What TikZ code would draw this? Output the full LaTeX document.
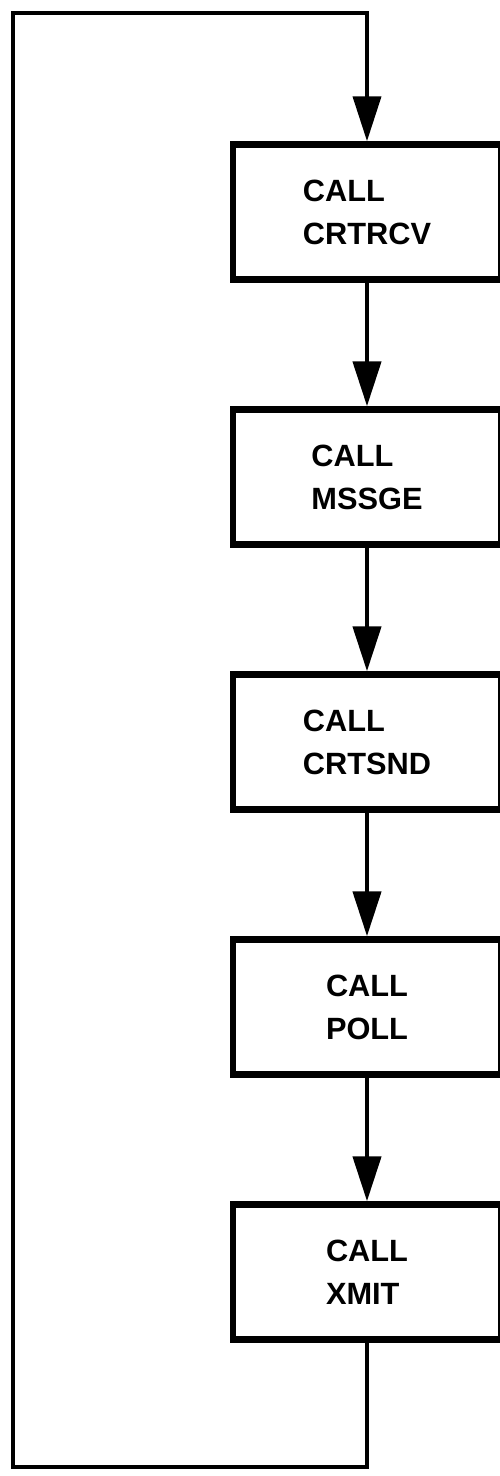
\documentclass[tikz,border=0pt]{standalone}
\usepackage{fontspec}
\setmainfont{Liberation Sans}
\usetikzlibrary{arrows.meta}
\tikzset{
  callbox/.style={draw, line width=0.13cm, minimum width=5.36cm, minimum height=2.7cm,
    align=left, font=\fontsize{17.5}{24.5}\selectfont\bfseries},
  flow/.style={line width=0.09cm, -{Triangle[length=0.9cm,width=0.56cm]}},
  loopline/.style={line width=0.08cm, -{Triangle[length=0.9cm,width=0.56cm]}}
}
\begin{document}
\begin{tikzpicture}
  \useasboundingbox (0,0) rectangle (10,-29.52);
  % Boxes
  \foreach \n/\y/\t in {crtrcv/-4.24/CRTRCV, mssge/-9.54/MSSGE, crtsnd/-14.84/CRTSND, poll/-20.14/POLL, xmit/-25.44/XMIT} {
    \node[callbox] (\n) at (7.34,\y) {CALL\\\t};
  }
  % Arrows between boxes
  \foreach \a/\b in {crtrcv/mssge, mssge/crtsnd, crtsnd/poll, poll/xmit} {
    \draw[flow] (\a.south) -- (\b.north);
  }
  % Loop back to the top
  \coordinate (botleft) at (0.26,-29.34);
  \coordinate (topleft) at (0.26,-0.26);
  \draw[loopline] (xmit.south) |- (botleft) -- (topleft) -| (crtrcv.north);
\end{tikzpicture}
\end{document}
